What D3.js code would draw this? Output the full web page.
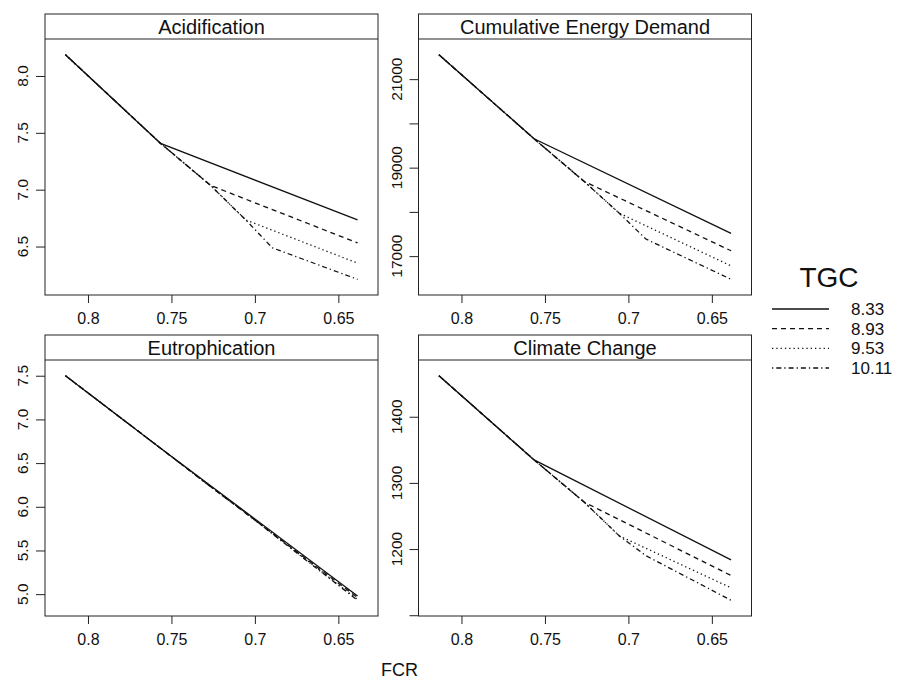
<!DOCTYPE html>
<html>
<head>
<meta charset="utf-8">
<script src="https://cdn.jsdelivr.net/npm/d3@7"></script>
<style>
    body { margin: 0; background: #fff; }
    svg { font-family: "Liberation Sans", Arial, Helvetica, sans-serif; }
</style>
</head>
<body>
<div id="chart"></div>
<script>
// FCR values where the lines have a vertex
const fcr = [0.8135, 0.7565, 0.7265, 0.7055, 0.6895, 0.6385];
const tgcLevels = ["8.33", "8.93", "9.53", "10.11"];
const xTicks = [0.8, 0.75, 0.7, 0.65];

// one row per TGC level, null = no vertex at that FCR
const acidification = [
    [8.187, 7.407, null, null, null, 6.734],
    [8.187, 7.407, 7.037, null, null, 6.532],
    [8.187, 7.407, 7.037, 6.734, null, 6.354],
    [8.187, 7.407, 7.037, 6.734, 6.488, 6.212]
];
const energyDemand = [
    [21552, 19652, null, null, null, 17516],
    [21552, 19652, 18689, null, null, 17121],
    [21552, 19652, 18689, 17970, null, 16780],
    [21552, 19652, 18689, 17970, 17386, 16477]
];
const eutrophication = [
    [7.5, 6.67, null, null, null, 4.98],
    [7.5, 6.67, 6.23, null, null, 4.96],
    [7.5, 6.67, 6.23, 5.93, null, 4.94],
    [7.5, 6.67, 6.23, 5.93, 5.69, 4.93]
];
const climateChange = [
    [1462, 1334.8, null, null, null, 1183.7],
    [1462, 1334.8, 1271, null, null, 1160],
    [1462, 1334.8, 1271, 1220, null, 1141.4],
    [1462, 1334.8, 1271, 1220, 1190, 1122.6]
];

const acidTicks = [6.5, 7.0, 7.5, 8.0];
const energyTicks = [17000, 18000, 19000, 20000, 21000];
const energyLabels = [17000, 19000, 21000];
const eutroTicks = [5.0, 5.5, 6.0, 6.5, 7.0, 7.5];
const climateTicks = [1100, 1200, 1300, 1400];
const climateLabels = [1200, 1300, 1400];

const panels = [
    { title: "Acidification", values: acidification, ticks: acidTicks, labels: acidTicks, fmt: d3.format(".1f"), x0: 45, y0: 14 },
    { title: "Cumulative Energy Demand", values: energyDemand, ticks: energyTicks, labels: energyLabels, fmt: d3.format("d"), x0: 418.5, y0: 14 },
    { title: "Eutrophication", values: eutrophication, ticks: eutroTicks, labels: eutroTicks, fmt: d3.format(".1f"), x0: 45, y0: 335 },
    { title: "Climate Change", values: climateChange, ticks: climateTicks, labels: climateLabels, fmt: d3.format("d"), x0: 418.5, y0: 335 }
];

const dashes = [null, "5,4", "1.3,3", "1.3,3,5,3"];

const W = 901, H = 683;
const panelW = 333, panelH = 281, stripH = 25;
const ink = "#222";

const svg = d3.select("#chart")
    .append("svg")
    .attr("width", W)
    .attr("height", H);

// lattice style 7% padding on both scales
const padExtent = (ext) => {
    const p = (ext[1] - ext[0]) * 0.07;
    return [ext[0] - p, ext[1] + p];
};

const xDom = padExtent(d3.extent(fcr));

panels.forEach((p) => {
    const g = svg.append("g").attr("transform", `translate(${p.x0},${p.y0})`);

    const xScale = d3.scaleLinear()
        .domain([xDom[1], xDom[0]])
        .range([0, panelW]);

    const allVals = p.values.flat().filter((v) => v !== null);
    const yScale = d3.scaleLinear()
        .domain(padExtent(d3.extent(allVals)))
        .range([panelH, stripH]);

    // lines
    const line = d3.line()
        .x((d) => xScale(d.x))
        .y((d) => yScale(d.y));

    p.values.forEach((row, i) => {
        const pts = row.map((v, j) => ({ x: fcr[j], y: v })).filter((d) => d.y !== null);
        g.append("path")
            .attr("fill", "none")
            .attr("stroke", "#111")
            .attr("stroke-width", 1.3)
            .attr("stroke-dasharray", dashes[i])
            .attr("d", line(pts));
    });

    // panel box and strip
    g.append("rect")
        .attr("width", panelW)
        .attr("height", panelH)
        .attr("fill", "none")
        .attr("stroke", ink)
        .attr("stroke-width", 1);

    g.append("line")
        .attr("x1", 0).attr("x2", panelW)
        .attr("y1", stripH).attr("y2", stripH)
        .attr("stroke", ink);

    g.append("text")
        .attr("x", panelW / 2)
        .attr("y", stripH / 2 + 7)
        .attr("text-anchor", "middle")
        .style("font-size", "20px")
        .attr("fill", "#111")
        .text(p.title);

    // x axis
    const xAxis = g.append("g")
        .attr("transform", `translate(0,${panelH})`)
        .call(d3.axisBottom(xScale).tickValues(xTicks).tickFormat((d) => String(d)).tickSize(8).tickPadding(10));
    xAxis.select(".domain").remove();
    xAxis.selectAll("line").attr("stroke", ink);
    xAxis.selectAll("text").style("font-size", "16px").attr("fill", "#111").attr("font-family", null);

    // y axis with rotated labels
    const yAxis = g.append("g")
        .call(d3.axisLeft(yScale).tickValues(p.ticks).tickFormat("").tickSize(9));
    yAxis.select(".domain").remove();
    yAxis.selectAll("line").attr("stroke", ink);

    g.selectAll(".ylab")
        .data(p.labels)
        .enter()
        .append("text")
        .attr("class", "ylab")
        .attr("transform", (d) => `translate(-17,${yScale(d)}) rotate(-90)`)
        .attr("text-anchor", "middle")
        .style("font-size", "15.5px")
        .attr("fill", "#111")
        .text((d) => p.fmt(d));
});

// x axis title
svg.append("text")
    .attr("x", 399.5)
    .attr("y", 676)
    .attr("text-anchor", "middle")
    .style("font-size", "18px")
    .attr("fill", "#111")
    .text("FCR");

// legend
svg.append("text")
    .attr("x", 829)
    .attr("y", 287)
    .attr("text-anchor", "middle")
    .style("font-size", "28px")
    .attr("fill", "#111")
    .text("TGC");

const legendY = d3.scalePoint().domain(tgcLevels).range([309, 368]);

tgcLevels.forEach((lev, i) => {
    svg.append("line")
        .attr("x1", 772).attr("x2", 829)
        .attr("y1", legendY(lev)).attr("y2", legendY(lev))
        .attr("stroke", "#111")
        .attr("stroke-width", 1.3)
        .attr("stroke-dasharray", dashes[i]);
    svg.append("text")
        .attr("x", 851)
        .attr("y", legendY(lev) + 6)
        .style("font-size", "17px")
        .attr("fill", "#111")
        .text(lev);
});
</script>
</body>
</html>
